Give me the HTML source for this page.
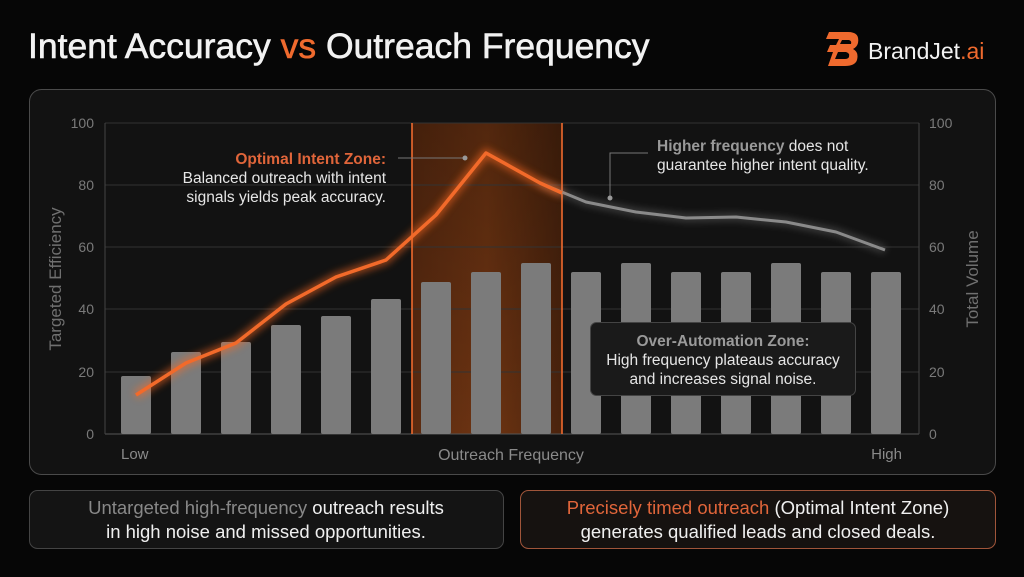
<!DOCTYPE html>
<html><head><meta charset="utf-8"><style>
html,body{margin:0;padding:0;background:#060606;}
body{width:1024px;height:572px;overflow:hidden;font-family:"Liberation Sans",sans-serif;}
</style></head><body>
<svg width="1024" height="572" viewBox="0 0 1024 572" xmlns="http://www.w3.org/2000/svg" font-family="Liberation Sans, sans-serif">
<defs>
<linearGradient id="zone" x1="0" x2="1" y1="0" y2="0">
<stop offset="0" stop-color="#5a2a10"/><stop offset="0.5" stop-color="#6e3412"/><stop offset="1" stop-color="#4a230d"/>
</linearGradient>
<linearGradient id="zonev" x1="0" x2="0" y1="0" y2="1">
<stop offset="0" stop-color="#000" stop-opacity="0.25"/><stop offset="1" stop-color="#000" stop-opacity="0"/>
</linearGradient>
<filter id="glow" x="-20%" y="-20%" width="140%" height="140%"><feGaussianBlur stdDeviation="4"/></filter>
</defs>
<rect width="1024" height="572" fill="#060606"/>
<text x="28" y="58" font-size="35.5" fill="#f2f2f2" stroke="#f2f2f2" stroke-width="0.6">Intent Accuracy <tspan fill="#ef6a2e" stroke="#ef6a2e">vs</tspan> Outreach Frequency</text>
<!-- logo -->
<path d="M829 32 L848 32 Q860 32 858 43 Q857 47 853 49 Q859 52 857 60 Q855 66 845 66 L828 66 L833 52 L827 52 L830 45 L836 45 L839 39 L826 39 Z" fill="#ef6a2e"/>
<path d="M842 40 L849 40 Q852 41 851 44 L840 44 Z M838 52 L846 52 Q850 53 849 57 Q848 59 845 59 L835 59 Z" fill="#060606"/>
<text x="868" y="59" font-size="23" fill="#f2f2f2">BrandJet<tspan fill="#ef6a2e">.ai</tspan></text>
<!-- panel -->
<rect x="29.5" y="89.5" width="966" height="385" rx="12" fill="#121212" stroke="#4a4a4a"/>
<!-- zone -->
<rect x="412" y="123" width="150" height="311" fill="url(#zone)"/>
<rect x="412" y="123" width="150" height="311" fill="url(#zonev)"/>
<!-- grid -->
<g stroke="#333" stroke-width="1">
<line x1="105" y1="123" x2="919" y2="123"/><line x1="105" y1="185" x2="919" y2="185"/>
<line x1="105" y1="247" x2="919" y2="247"/><line x1="105" y1="309" x2="919" y2="309"/>
<line x1="105" y1="372" x2="919" y2="372"/><line x1="105" y1="434" x2="919" y2="434" stroke="#555"/>
<line x1="105" y1="123" x2="105" y2="434" stroke="#444"/><line x1="919" y1="123" x2="919" y2="434" stroke="#444"/>
</g>
<g font-size="14" fill="#7a7a7a">
<g text-anchor="end"><text x="94" y="128">100</text><text x="94" y="190">80</text><text x="94" y="252">60</text><text x="94" y="314">40</text><text x="94" y="377">20</text><text x="94" y="439">0</text></g>
<g><text x="929" y="128">100</text><text x="929" y="190">80</text><text x="929" y="252">60</text><text x="929" y="314">40</text><text x="929" y="377">20</text><text x="929" y="439">0</text></g>
</g>
<text transform="translate(61,279) rotate(-90)" text-anchor="middle" font-size="17" fill="#707070">Targeted Efficiency</text>
<text transform="translate(978,279) rotate(-90)" text-anchor="middle" font-size="17" fill="#707070">Total Volume</text>
<text x="121" y="459" font-size="15" fill="#8a8a8a">Low</text>
<text x="511" y="460" font-size="16" fill="#8a8a8a" text-anchor="middle">Outreach Frequency</text>
<text x="902" y="459" font-size="15" fill="#8a8a8a" text-anchor="end">High</text>
<!-- bars -->
<g fill="#7b7b7b">
<rect x="121" y="376" width="30" height="58" rx="2"/>
<rect x="171" y="352" width="30" height="82" rx="2"/>
<rect x="221" y="342" width="30" height="92" rx="2"/>
<rect x="271" y="325" width="30" height="109" rx="2"/>
<rect x="321" y="316" width="30" height="118" rx="2"/>
<rect x="371" y="299" width="30" height="135" rx="2"/>
<rect x="421" y="282" width="30" height="152" rx="2"/>
<rect x="471" y="272" width="30" height="162" rx="2"/>
<rect x="521" y="263" width="30" height="171" rx="2"/>
<rect x="571" y="272" width="30" height="162" rx="2"/>
<rect x="621" y="263" width="30" height="171" rx="2"/>
<rect x="671" y="272" width="30" height="162" rx="2"/>
<rect x="721" y="272" width="30" height="162" rx="2"/>
<rect x="771" y="263" width="30" height="171" rx="2"/>
<rect x="821" y="272" width="30" height="162" rx="2"/>
<rect x="871" y="272" width="30" height="162" rx="2"/>
</g>
<!-- zone lines -->
<line x1="412" y1="123" x2="412" y2="434" stroke="#ef6a2e" stroke-width="2" opacity="0.8"/>
<line x1="562" y1="123" x2="562" y2="434" stroke="#ef6a2e" stroke-width="2" opacity="0.8"/>
<!-- lines -->
<polyline points="540,183 586,202 636,212 686,218 736,217 786,222 836,232 885,250" fill="none" stroke="#aaa" stroke-width="6" opacity="0.35" filter="url(#glow)"/>
<polyline points="540,183 586,202 636,212 686,218 736,217 786,222 836,232 885,250" fill="none" stroke="#8a8a8a" stroke-width="3" stroke-linejoin="round"/>
<polyline points="136,395 186,363 236,343 286,304 336,277 386,260 436,215 486,153 540,183 562,193" fill="none" stroke="#ff6a20" stroke-width="8" opacity="0.6" filter="url(#glow)"/>
<polyline points="136,395 186,363 236,343 286,304 336,277 386,260 436,215 486,153 540,183 562,193" fill="none" stroke="#f26a2a" stroke-width="3.5" stroke-linejoin="round"/>
<!-- annotations -->
<line x1="398" y1="158" x2="464" y2="158" stroke="#777"/><circle cx="465" cy="158" r="2.5" fill="#999"/>
<text x="386" y="164" text-anchor="end" font-size="15.5" font-weight="bold" fill="#e0653a">Optimal Intent Zone:</text>
<text x="386" y="183" text-anchor="end" font-size="15.5" fill="#e6e6e6">Balanced outreach with intent</text>
<text x="386" y="202" text-anchor="end" font-size="15.5" fill="#e6e6e6">signals yields peak accuracy.</text>
<polyline points="648,153 610,153 610,198" fill="none" stroke="#777"/><circle cx="610" cy="198" r="2.5" fill="#999"/>
<text x="657" y="151" font-size="15.5" fill="#e6e6e6"><tspan font-weight="bold" fill="#999">Higher frequency</tspan> does not</text>
<text x="657" y="170" font-size="15.5" fill="#e6e6e6">guarantee higher intent quality.</text>
<rect x="590.5" y="322.5" width="265" height="73" rx="6" fill="#1a1a1a" stroke="#444"/>
<text x="723" y="346" text-anchor="middle" font-size="15.5" font-weight="bold" fill="#9a9a9a">Over-Automation Zone:</text>
<text x="723" y="365" text-anchor="middle" font-size="15.5" fill="#e6e6e6">High frequency plateaus accuracy</text>
<text x="723" y="384" text-anchor="middle" font-size="15.5" fill="#e6e6e6">and increases signal noise.</text>
<!-- bottom boxes -->
<rect x="29.5" y="490.5" width="474" height="58" rx="8" fill="#141414" stroke="#444"/>
<text x="266" y="514" text-anchor="middle" font-size="18.5" fill="#f0f0f0"><tspan fill="#888">Untargeted high-frequency</tspan> outreach results</text>
<text x="266" y="538" text-anchor="middle" font-size="18.5" fill="#f0f0f0">in high noise and missed opportunities.</text>
<rect x="520.5" y="490.5" width="475" height="58" rx="8" fill="#161210" stroke="#a0553a"/>
<text x="758" y="514" text-anchor="middle" font-size="18.5" fill="#f0f0f0"><tspan fill="#e0653a">Precisely timed outreach</tspan> (Optimal Intent Zone)</text>
<text x="758" y="538" text-anchor="middle" font-size="18.5" fill="#f0f0f0">generates qualified leads and closed deals.</text>
</svg>
</body></html>
